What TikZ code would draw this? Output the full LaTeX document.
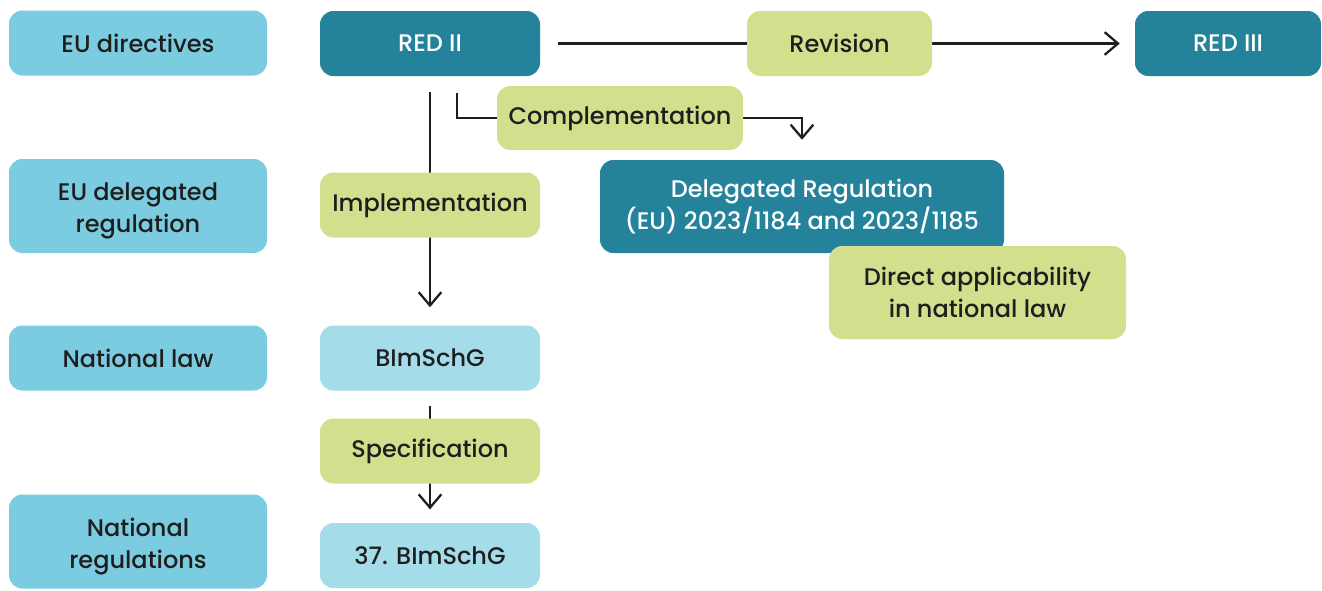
\documentclass[tikz,border=0pt]{standalone}
\usepackage{fontspec}
\setmainfont{Poppins}[UprightFont={* Medium}]
\usetikzlibrary{arrows.meta,backgrounds}
\definecolor{catblue}{HTML}{7BCCE0}
\definecolor{lightblue}{HTML}{A4DCEA}
\definecolor{teal}{HTML}{24839B}
\definecolor{lgreen}{HTML}{D3DF8D}
\definecolor{ink}{HTML}{1E1E1E}
\begin{document}
\begin{tikzpicture}[x=0.75pt,y=-0.75pt,
  every node/.style={font=\fontsize{18}{24}\selectfont, align=center, inner sep=0pt, rounded corners=10pt, text=ink},
  cat/.style={fill=catblue, minimum width=193.5pt},
  darkbox/.style={fill=teal, text=white},
  greenbox/.style={fill=lgreen},
  lightbox/.style={fill=lightblue},
  twoline/.style={text height=44.8pt, text depth=5pt},
  conn/.style={draw=ink, line width=1.7pt, -{Straight Barb[length=10pt,width=17pt,line width=1.7pt]}}]
\useasboundingbox (0,0) rectangle (1322,590);
% category column
\node[cat, minimum height=48.75pt] (dir) at (138,43) {EU directives};
\node[cat, twoline, minimum height=70.5pt] (delreg) at (138,206) {EU delegated\\regulation};
\node[cat, minimum height=48.75pt] (natlaw) at (138,358) {National law};
\node[cat, twoline, minimum height=70.5pt] (natreg) at (138,541.5) {National\\regulations};
% main nodes
\node[darkbox, minimum width=165pt, minimum height=48.75pt] (red2) at (430,43.5) {RED II};
\node[greenbox, minimum width=138.75pt, minimum height=48.75pt] (rev) at (839.5,43.5) {Revision};
\node[darkbox, minimum width=139.5pt, minimum height=48.75pt] (red3) at (1228,43.5) {RED III};
\node[greenbox, minimum width=184.5pt, minimum height=48pt] (compl) at (620,118) {Complementation};
\node[greenbox, minimum width=165pt, minimum height=48.75pt] (impl) at (430,205) {Implementation};
\node[darkbox, twoline, text height=38.8pt, minimum width=303pt, minimum height=69.75pt] (deleg) at (802,206.5) {Delegated Regulation\\(EU) 2023/1184 and 2023/1185};
\node[greenbox, twoline, text height=42.8pt, minimum width=222.75pt, minimum height=69.75pt] (direct) at (977.5,292.5) {Direct applicability\\in national law};
\node[lightbox, minimum width=165pt, minimum height=48.75pt] (bim) at (430,358) {BImSchG};
\node[greenbox, minimum width=165pt, minimum height=48.75pt] (spec) at (430,451) {Specification};
\node[lightbox, minimum width=165pt, minimum height=48.75pt] (bim37) at (430,555.5) {37. BImSchG};
\coordinate (cstart) at (457,93);
\begin{scope}[on background layer]
\draw[conn, shorten <=13.5pt, shorten >=11.25pt] (red2.east) -- (red3.west);
\draw[conn, shorten <=12pt, shorten >=13.5pt] (red2.south) -- (bim.north);
\draw[conn, shorten <=11.25pt, shorten >=10pt] (bim.south) -- (bim37.north);
\draw[conn, shorten >=15pt] (cstart) |- (compl.west) -- (compl.east) -| (deleg.north);
\end{scope}
\end{tikzpicture}
\end{document}
